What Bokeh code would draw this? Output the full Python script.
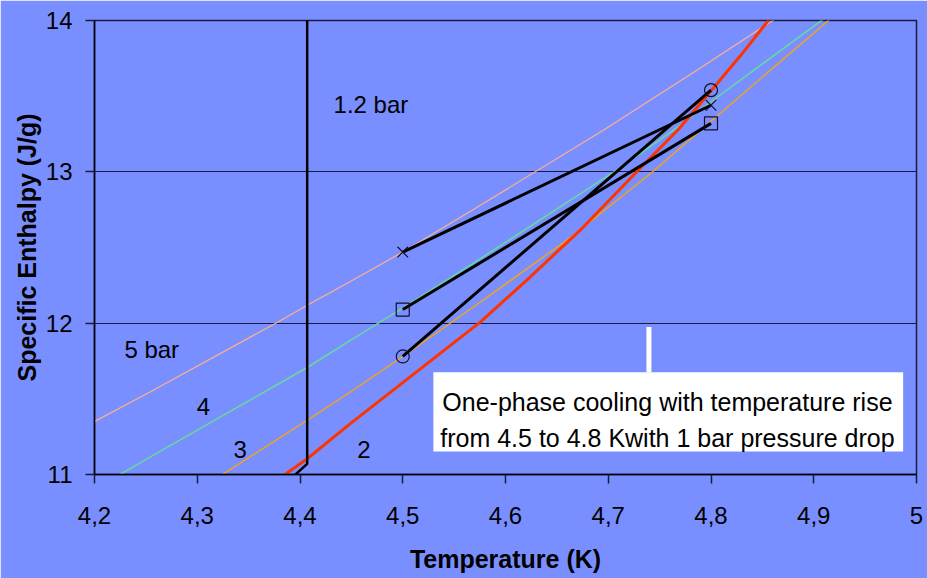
from bokeh.plotting import figure
from bokeh.models import (Range1d, FixedTicker, CustomJSTickFormatter, Label,
                          BoxAnnotation)
from bokeh.embed import file_html
from bokeh.resources import INLINE

# ---- data ----
T_5bar = [4.193, 4.254, 4.376, 4.407, 4.449, 4.5, 4.576, 4.696, 4.79, 4.874]
H_5bar = [11.325, 11.545, 11.998, 12.119, 12.275, 12.47, 12.781, 13.278, 13.687, 14.062]

T_4bar = [4.212, 4.225, 4.254, 4.407, 4.449, 4.5, 4.576, 4.706, 4.764, 4.805, 4.920]
H_4bar = [10.95, 11.0, 11.115, 11.707, 11.887, 12.1, 12.428, 13.002, 13.278, 13.488, 14.062]

T_3bar = [4.313, 4.407, 4.449, 4.5, 4.576, 4.66, 4.745, 4.8, 4.925]
H_3bar = [10.95, 11.358, 11.545, 11.78, 12.141, 12.55, 13.01, 13.335, 14.062]

T_2bar = [4.375, 4.407, 4.449, 4.576, 4.62, 4.673, 4.732, 4.768, 4.805, 4.829, 4.863]
H_2bar = [10.95, 11.104, 11.336, 12.01, 12.28, 12.616, 13.03, 13.278, 13.576, 13.77, 14.062]

T_12bar = [4.407, 4.407, 4.389]
H_12bar = [14.06, 11.07, 10.96]

T_seg = [4.5, 4.8]
H_seg_x = [12.47, 13.44]
H_seg_square = [12.09, 13.32]
H_seg_circle = [11.78, 13.54]

x_ticks = [4.2, 4.3, 4.4, 4.5, 4.6, 4.7, 4.8, 4.9, 5.0]
y_ticks = [11, 12, 13, 14]

FONT = "Liberation Sans"
BG = "#7A8FFF"

p = figure(width=927, height=578, output_backend="svg", toolbar_location=None,
           x_range=Range1d(4.2, 5.0), y_range=Range1d(11, 14),
           min_border_left=94, min_border_right=11, min_border_top=20,
           min_border_bottom=104)
p.background_fill_color = BG
p.border_fill_color = BG
p.outline_line_color = "#1a1a3a"
p.outline_line_width = 1.5

p.xgrid.visible = False
p.ygrid.ticker = FixedTicker(ticks=y_ticks)
p.ygrid.grid_line_color = "#1a1a3a"
p.ygrid.grid_line_width = 1

fmt = CustomJSTickFormatter(code="var s = (Math.round(tick*10)/10).toString(); return s.replace('.', ',');")
p.xaxis.ticker = FixedTicker(ticks=x_ticks)
p.xaxis.formatter = fmt
p.yaxis.ticker = FixedTicker(ticks=y_ticks)

for ax in (p.xaxis[0], p.yaxis[0]):
    ax.axis_line_color = "black"
    ax.axis_line_width = 1.5
    ax.major_tick_line_color = "#1a1a3a"
    ax.major_tick_line_width = 1.5
    ax.major_tick_in = 0
    ax.major_tick_out = 9
    ax.minor_tick_line_color = None
    ax.major_label_text_font = FONT
    ax.major_label_text_font_size = "24px"
    ax.major_label_text_color = "black"
    ax.axis_label_text_font = FONT
    ax.axis_label_text_font_size = "25px"
    ax.axis_label_text_font_style = "bold"
    ax.axis_label_text_color = "black"

p.xaxis.axis_label = "Temperature (K)"
p.xaxis.major_label_standoff = 23
p.xaxis.axis_label_standoff = 18
p.yaxis.axis_label = "Specific Enthalpy (J/g)"
p.yaxis.major_label_standoff = 13
p.yaxis.axis_label_standoff = 2

# isobar curves
p.line(T_5bar, H_5bar, line_color="#FFB08A", line_width=1.2)
p.line(T_4bar, H_4bar, line_color="#66D9A0", line_width=1.5)
p.line(T_3bar, H_3bar, line_color="#FFA500", line_width=1.3)
p.line(T_2bar, H_2bar, line_color="#FF3300", line_width=3)
p.line(T_12bar, H_12bar, line_color="black", line_width=2.5)

# cooling paths
p.line(T_seg, H_seg_x, line_color="black", line_width=3)
p.line(T_seg, H_seg_square, line_color="black", line_width=3)
p.line(T_seg, H_seg_circle, line_color="black", line_width=3)
p.scatter(T_seg, H_seg_x, marker="x", size=15, line_color="#111122", line_width=1.2)
p.scatter(T_seg, H_seg_square, marker="square", size=13, fill_color=None,
          line_color="#111122", line_width=1.2)
p.scatter(T_seg, H_seg_circle, marker="circle", size=13, fill_color=None,
          line_color="#111122", line_width=1.2)

# curve labels
for txt, x, y in [("1.2 bar", 4.469, 13.444), ("5 bar", 4.2557, 11.828),
                  ("4", 4.306, 11.448), ("3", 4.3418, 11.168), ("2", 4.4621, 11.168)]:
    p.add_layout(Label(x=x, y=y, text=txt, text_font=FONT, text_font_size="24px",
                       text_color="black", text_align="center", text_baseline="middle"))

# annotation box
p.add_layout(BoxAnnotation(left=4.5298, right=4.987, bottom=11.152, top=11.675,
                           fill_color="white", fill_alpha=1, line_color=None))
p.segment(x0=[4.7396], y0=[11.675], x1=[4.7396], y1=[11.974],
          line_color="white", line_width=5)
p.add_layout(Label(x=4.7576, y=11.479, text="One-phase cooling with temperature rise",
                   text_font=FONT, text_font_size="25px", text_color="black",
                   text_align="center", text_baseline="alphabetic"))
p.add_layout(Label(x=4.7576, y=11.238, text="from 4.5 to 4.8 Kwith 1 bar pressure drop",
                   text_font=FONT, text_font_size="25px", text_color="black",
                   text_align="center", text_baseline="alphabetic"))

open("out.html", "w").write(file_html(p, INLINE))
